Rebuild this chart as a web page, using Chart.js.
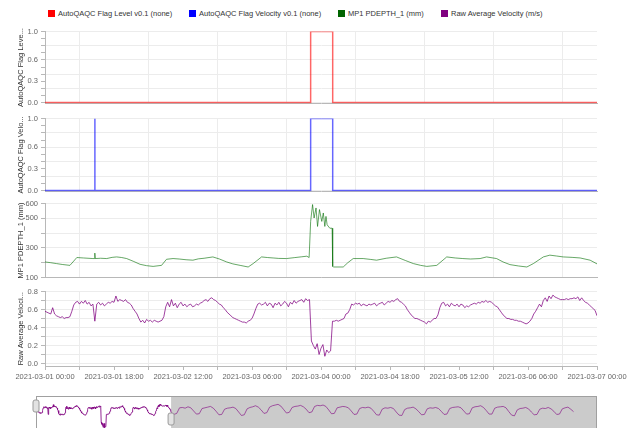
<!DOCTYPE html>
<html>
<head>
<meta charset="utf-8">
<script src="https://cdn.jsdelivr.net/npm/chart.js@4"></script>
<style>
  html, body { margin: 0; padding: 0; background: #fff; }
  body { width: 631px; height: 428px; position: relative; overflow: hidden; font-family: 'Liberation Sans', Arial, sans-serif; }
  canvas { position: absolute; left: 0; }
  .legend { position: absolute; top: 9px; font-size: 7.5px; color: #333; white-space: nowrap; line-height: 9px; }
  .legend span.box { display: inline-block; width: 7px; height: 7px; vertical-align: -1px; margin-right: 3px; }
</style>
</head>
<body>
<div class="legend" style="left:48px"><span class="box" style="background:#ff0000"></span>AutoQAQC Flag Level v0.1 (none)</div>
<div class="legend" style="left:189px"><span class="box" style="background:#0000ff"></span>AutoQAQC Flag Velocity v0.1 (none)</div>
<div class="legend" style="left:338px"><span class="box" style="background:#006400"></span>MP1 PDEPTH_1 (mm)</div>
<div class="legend" style="left:441px"><span class="box" style="background:#800080"></span>Raw Average Velocity (m/s)</div>

<canvas id="p1" width="631" height="87" style="top:24px"></canvas>
<canvas id="p2" width="631" height="88" style="top:111px"></canvas>
<canvas id="p3" width="631" height="89" style="top:196px"></canvas>
<canvas id="p4" width="631" height="98" style="top:284px"></canvas>
<canvas id="nav" width="631" height="44" style="top:392px"></canvas>

<script>
// ---- data (x = hours since 2021-03-01 00:00) ----

// flag series, [hour, flag]
const levelFlag = [[0, 0], [69.3, 0], [69.3, 1], [75.05, 1], [75.05, 0], [144, 0]];
const velocityFlag = [[0, 0], [12.97, 0], [13, 1], [13.03, 0], [69.3, 0], [69.3, 1], [75.05, 1], [75.05, 0], [144, 0]];

// MP1 PDEPTH_1 (mm), [hour, value]
const depth = [
  [0, 205], [1.5, 200], [3, 194], [4.5, 188], [6.5, 182], [7.3, 205], [8.3, 235], [10, 232], [12.5, 228], [12.9, 228],
  [13, 265], [13.1, 228], [14.5, 230], [16.1, 228], [17.5, 236], [18.7, 239], [20, 235], [21.3, 228], [23, 210], [24.8, 189],
  [26.5, 180], [28.2, 175], [30.4, 182], [31.7, 223], [33.4, 228], [35, 225], [36.8, 220], [38.6, 217], [40, 226], [41.5, 230],
  [43.8, 239], [45.5, 225], [47.4, 205], [49, 192], [50.9, 182], [53, 171], [54.3, 194], [56.5, 239], [58, 235], [59.5, 232],
  [61, 229], [63, 228], [65, 234], [67, 240], [68.3, 244], [68.9, 235], [69.3, 479], [69.8, 593], [70.2, 502], [70.7, 570],
  [71.1, 445], [71.6, 559], [72.2, 479], [72.6, 536], [73, 445], [73.3, 513], [73.6, 456], [74.3, 433], [74.9, 433], [75.05, 175],
  [75.2, 171], [77.8, 171], [79, 200], [80.4, 228], [83, 228], [85, 222], [86.5, 217], [89, 230], [91.7, 239], [94, 215],
  [96.1, 194], [98, 182], [99.6, 175], [102.2, 182], [104.8, 239], [107, 232], [109, 228], [111, 225], [113.5, 228], [115.2, 239],
  [117.8, 228], [119.5, 205], [121.3, 187], [123.5, 178], [125.7, 171], [127.4, 194], [130, 239], [131.7, 251], [133.5, 245], [135.2, 239],
  [137.5, 236], [139.6, 232], [142.2, 217], [144, 192]
];

// Raw Average Velocity (m/s), one value every 30 minutes from 0 h to 144 h
const velocity = [
  0.58, 0.57, 0.56, 0.55, 0.62, 0.55, 0.53, 0.52, 0.51, 0.52, 0.50, 0.51, 0.51, 0.52, 0.58, 0.65, 0.68, 0.69, 0.66, 0.69,
  0.67, 0.70, 0.66, 0.68, 0.64, 0.66, 0.47, 0.66, 0.68, 0.65, 0.67, 0.64, 0.66, 0.68, 0.67, 0.69, 0.68, 0.75, 0.69, 0.71,
  0.70, 0.69, 0.71, 0.68, 0.67, 0.65, 0.61, 0.58, 0.55, 0.50, 0.46, 0.48, 0.45, 0.49, 0.47, 0.48, 0.46, 0.48, 0.47, 0.46,
  0.47, 0.48, 0.52, 0.63, 0.68, 0.63, 0.71, 0.64, 0.67, 0.62, 0.66, 0.68, 0.64, 0.66, 0.63, 0.65, 0.66, 0.63, 0.64, 0.66,
  0.65, 0.67, 0.68, 0.70, 0.71, 0.69, 0.72, 0.73, 0.71, 0.70, 0.68, 0.66, 0.65, 0.62, 0.60, 0.57, 0.55, 0.53, 0.51, 0.50,
  0.49, 0.48, 0.47, 0.46, 0.46, 0.45, 0.47, 0.48, 0.50, 0.55, 0.61, 0.66, 0.67, 0.65, 0.66, 0.68, 0.64, 0.67, 0.66, 0.62,
  0.67, 0.65, 0.68, 0.64, 0.66, 0.69, 0.67, 0.63, 0.68, 0.66, 0.70, 0.67, 0.69, 0.70, 0.71, 0.68, 0.72, 0.70, 0.71, 0.25,
  0.20, 0.16, 0.22, 0.10, 0.17, 0.21, 0.08, 0.15, 0.12, 0.14, 0.47, 0.47, 0.48, 0.47, 0.48, 0.49, 0.50, 0.55, 0.56, 0.60,
  0.66, 0.65, 0.67, 0.66, 0.67, 0.64, 0.66, 0.65, 0.64, 0.66, 0.65, 0.66, 0.67, 0.64, 0.66, 0.67, 0.68, 0.65, 0.67, 0.69,
  0.68, 0.70, 0.69, 0.71, 0.72, 0.69, 0.68, 0.66, 0.64, 0.60, 0.57, 0.54, 0.52, 0.50, 0.50, 0.49, 0.48, 0.47, 0.46, 0.44,
  0.47, 0.46, 0.48, 0.50, 0.50, 0.54, 0.62, 0.67, 0.68, 0.64, 0.66, 0.63, 0.67, 0.65, 0.64, 0.66, 0.63, 0.66, 0.65, 0.62,
  0.64, 0.63, 0.65, 0.66, 0.67, 0.66, 0.68, 0.67, 0.69, 0.68, 0.70, 0.68, 0.69, 0.68, 0.66, 0.64, 0.63, 0.60, 0.57, 0.54,
  0.52, 0.50, 0.50, 0.49, 0.49, 0.48, 0.48, 0.47, 0.47, 0.46, 0.45, 0.44, 0.45, 0.47, 0.50, 0.55, 0.58, 0.62, 0.66, 0.63,
  0.70, 0.73, 0.69, 0.75, 0.72, 0.76, 0.74, 0.73, 0.72, 0.71, 0.71, 0.71, 0.72, 0.71, 0.72, 0.72, 0.73, 0.72, 0.74, 0.70,
  0.73, 0.70, 0.68, 0.67, 0.65, 0.63, 0.61, 0.59, 0.53
];

// velocity for the rest of the record (navigator only), every 3 h from 147 h
const laterVelocity = [
  0.47, 0.50, 0.66, 0.67, 0.65, 0.69, 0.66, 0.57,
  0.48, 0.49, 0.64, 0.66, 0.68, 0.70, 0.65, 0.56,
  0.46, 0.47, 0.62, 0.65, 0.66, 0.68, 0.64, 0.54,
  0.44, 0.46, 0.63, 0.67, 0.69, 0.72, 0.68, 0.60,
  0.50, 0.52, 0.68, 0.72, 0.74, 0.76, 0.71, 0.61,
  0.51, 0.53, 0.67, 0.70, 0.71, 0.73, 0.69, 0.62,
  0.52, 0.54, 0.70, 0.73, 0.72, 0.74, 0.70, 0.60,
  0.49, 0.50, 0.66, 0.68, 0.70, 0.69, 0.66, 0.57,
  0.47, 0.48, 0.64, 0.67, 0.66, 0.68, 0.65, 0.56,
  0.46, 0.45, 0.62, 0.66, 0.65, 0.67, 0.64, 0.54,
  0.45, 0.44, 0.61, 0.65, 0.66, 0.68, 0.63, 0.55,
  0.46, 0.47, 0.63, 0.66, 0.65, 0.67, 0.64, 0.56,
  0.47, 0.48, 0.64, 0.67, 0.68, 0.69, 0.66, 0.57,
  0.48, 0.49, 0.66, 0.69, 0.70, 0.72, 0.67, 0.58,
  0.48, 0.48, 0.65, 0.68, 0.69, 0.70, 0.66, 0.55,
  0.45, 0.43, 0.60, 0.64, 0.65, 0.67, 0.63, 0.54,
  0.46, 0.47, 0.62, 0.65, 0.64, 0.67, 0.63, 0.56,
  0.47, 0.48, 0.63, 0.66, 0.68, 0.62, 0.55
];

// ---- helpers ----
Chart.defaults.font.family = "'Liberation Sans', Arial, sans-serif";
Chart.defaults.font.size = 7.5;
Chart.defaults.animation = false;

const FONT = { family: "'Liberation Sans', Arial, sans-serif", size: 7.5 };
const GRID = '#ececec';
const AXIS = '#b8b8b8';
const NONE = 'rgba(0,0,0,0)';

function tickLabel(h) {
  const day = 1 + Math.floor(h / 24);
  const hh = h % 24;
  return '2021-03-' + String(day).padStart(2, '0') + ' ' + String(hh).padStart(2, '0') + ':00';
}

function xScale(showLabels) {
  return {
    type: 'linear', min: 0, max: 144,
    afterBuildTicks: s => {
      s.ticks = [];
      for (let h = 0; h <= 144; h += 9) s.ticks.push({ value: h });
    },
    afterFit: s => { s.height = showLabels ? 16 : 0; },
    grid: {
      color: c => (c.tick && c.tick.value % 18 === 9) ? GRID : NONE,
      drawTicks: showLabels, tickLength: 4, tickColor: AXIS
    },
    border: { display: true, color: AXIS },
    ticks: {
      display: showLabels, autoSkip: false, maxRotation: 0, minRotation: 0, padding: 2,
      color: '#666', font: FONT,
      callback: v => v % 18 === 0 ? tickLabel(v) : ''
    }
  };
}

// values are given as integers with a divisor to avoid float noise
function yScale(title, min, max, tickInts, div, labelInts, gridInts) {
  return {
    min: min, max: max,
    afterBuildTicks: s => { s.ticks = tickInts.map(v => ({ value: v / div })); },
    afterFit: s => { s.width = 45; },
    grid: {
      color: c => (c.tick && gridInts.includes(Math.round(c.tick.value * div))) ? GRID : NONE,
      tickLength: 4, tickColor: AXIS
    },
    border: { display: true, color: AXIS },
    ticks: {
      padding: 3, color: '#666', font: FONT, autoSkip: false,
      callback: v => {
        const n = Math.round(v * div);
        if (!labelInts.includes(n)) return '';
        return div === 1 ? String(n) : (n / div).toFixed(1);
      }
    },
    title: { display: true, text: title, color: '#333', font: FONT, padding: { top: 16.5, bottom: 0 } }
  };
}

function panel(id, data, color, width, x, y) {
  return new Chart(document.getElementById(id), {
    type: 'line',
    data: { datasets: [{ data: data, borderColor: color, borderWidth: width, pointRadius: 0, tension: 0, fill: false }] },
    options: {
      responsive: false, maintainAspectRatio: false,
      layout: { padding: { left: 0, right: 34, top: 5, bottom: 0 } },
      plugins: { legend: { display: false }, tooltip: { enabled: false } },
      scales: { x: x, y: y }
    }
  });
}

const tenths = [0, 1, 2, 3, 4, 5, 6, 7, 8, 9, 10];

panel('p1', levelFlag, 'rgba(255,0,0,0.6)', 1.5, xScale(false),
  yScale('AutoQAQC Flag Leve...', -0.014, 1.0, tenths, 10, [0, 3, 6, 10], [0, 2, 4, 6, 8, 10]));

panel('p2', velocityFlag, 'rgba(0,0,255,0.6)', 1.5, xScale(false),
  yScale('AutoQAQC Flag Velo...', -0.014, 1.0, tenths, 10, [0, 3, 6, 10], [0, 2, 4, 6, 8, 10]));

panel('p3', depth, 'rgba(0,110,0,0.6)', 1, xScale(false),
  yScale('MP1 PDEPTH_1 (mm)', 100, 600, [100, 200, 300, 400, 500, 600], 1, [100, 300, 500, 600], [100, 200, 300, 400, 500, 600]));

const velPoints = velocity.map((v, i) => [i * 0.5, v]);
panel('p4', velPoints, 'rgba(128,0,128,0.75)', 1, xScale(true),
  yScale('Raw Average Veloci...', -0.028, 0.8, [0, 1, 2, 3, 4, 5, 6, 7, 8], 10, [0, 2, 4, 6, 8], [0, 1, 2, 3, 4, 5, 6, 7, 8]));

// ---- range navigator ----
const navPoints = velPoints.concat(laterVelocity.map((v, i) => [144 + 3 * (i + 1), v]));

const navDecor = {
  id: 'navDecor',
  beforeDatasetsDraw(chart) {
    const { ctx, chartArea: a, scales } = chart;
    const x0 = scales.x.getPixelForValue(144);
    ctx.save();
    ctx.fillStyle = '#cbcbcb';
    ctx.fillRect(x0, a.top, a.right - x0, a.bottom - a.top);
    ctx.restore();
  },
  afterDatasetsDraw(chart) {
    const { ctx, chartArea: a, scales } = chart;
    ctx.save();
    ctx.strokeStyle = '#a0a0a0';
    ctx.lineWidth = 1;
    ctx.strokeRect(a.left + 0.5, a.top + 0.5, a.right - a.left - 1, a.bottom - a.top);
    const handles = [[scales.x.getPixelForValue(0), a.top + 4], [scales.x.getPixelForValue(144), a.top + 17]];
    handles.forEach(([hx, hy]) => {
      ctx.beginPath();
      ctx.roundRect(hx - 3, hy, 6, 12, 2);
      ctx.fillStyle = '#e2e2e2';
      ctx.fill();
      ctx.strokeStyle = '#9a9a9a';
      ctx.stroke();
    });
    ctx.restore();
  }
};

new Chart(document.getElementById('nav'), {
  type: 'line',
  data: {
    datasets: [{
      data: navPoints, borderWidth: 1, pointRadius: 0, tension: 0, fill: false,
      borderColor: 'rgba(128,0,128,0.85)',
      segment: { borderColor: c => c.p0.parsed.x >= 144 ? 'rgba(128,0,128,0.6)' : 'rgba(128,0,128,0.85)' }
    }]
  },
  options: {
    responsive: false, maintainAspectRatio: false,
    layout: { padding: { left: 36, right: 34, top: 4, bottom: 0 } },
    plugins: { legend: { display: false }, tooltip: { enabled: false } },
    scales: {
      x: { type: 'linear', min: 0, max: 598, display: false },
      y: { min: -0.15, max: 1.0, display: false }
    }
  },
  plugins: [navDecor]
});
</script>
</body>
</html>
